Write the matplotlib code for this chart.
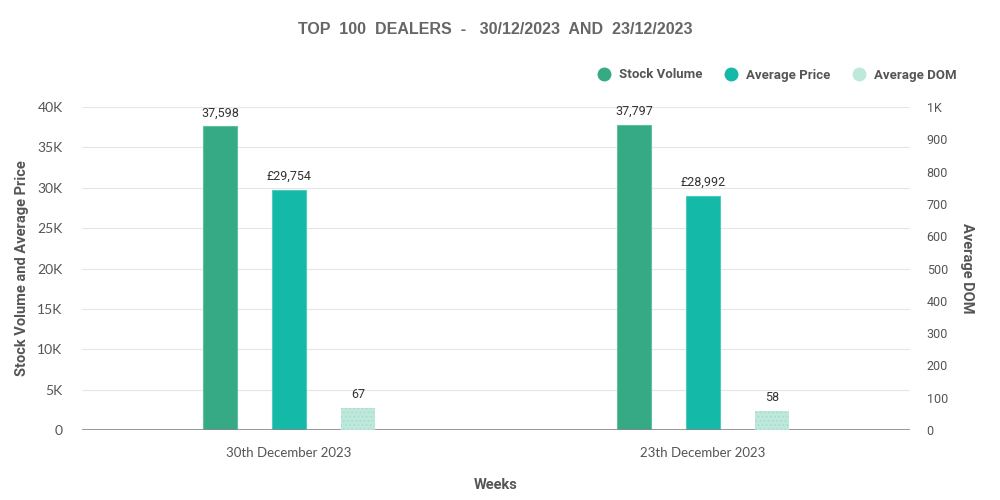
import matplotlib
matplotlib.use("Agg")
import matplotlib.pyplot as plt
from matplotlib.lines import Line2D
import numpy as np

weeks = ["30th December 2023", "23th December 2023"]
stock_volume = [37598, 37797]
average_price = [29754, 28992]
average_dom = [67, 58]
left_ticks = [0, 5000, 10000, 15000, 20000, 25000, 30000, 35000, 40000]
left_tick_labels = ["0", "5K", "10K", "15K", "20K", "25K", "30K", "35K", "40K"]
right_ticks = [0, 100, 200, 300, 400, 500, 600, 700, 800, 900, 1000]
right_tick_labels = ["0", "100", "200", "300", "400", "500", "600", "700", "800", "900", "1K"]

c_stock = "#35aa84"
c_price = "#15b9a7"
c_dom = "#bde8db"
txt = "#555555"

fig = plt.figure(figsize=(10, 5), dpi=100)
ax = fig.add_axes([0.082, 0.14, 0.828, 0.646])
ax2 = ax.twinx()

x = np.arange(len(weeks))
w = 0.082
off = 0.167

b1 = ax.bar(x - off, stock_volume, w, color=c_stock, edgecolor="#5fc09f", linewidth=0.8, zorder=3)
b2 = ax.bar(x, average_price, w, color=c_price, edgecolor="#4fcbbd", linewidth=0.8, zorder=3)
plt.rcParams['hatch.linewidth'] = 0.6
b3 = ax2.bar(x + off, average_dom, w, color=c_dom, edgecolor="#a6dccb", hatch="....", linewidth=0, zorder=3)

for xi, v in zip(x - off, stock_volume):
    ax.annotate(f"{v:,}", (xi, v), xytext=(0, 5), textcoords="offset points",
                ha="center", va="bottom", fontsize=9, color="#333333", family="Roboto")
for xi, v in zip(x, average_price):
    ax.annotate(f"£{v:,}", (xi, v), xytext=(0, 5), textcoords="offset points",
                ha="center", va="bottom", fontsize=9, color="#333333", family="Roboto")
for xi, v in zip(x + off, average_dom):
    ax2.annotate(f"{v:,}", (xi, v), xytext=(0, 5), textcoords="offset points",
                 ha="center", va="bottom", fontsize=9, color="#333333", family="Roboto")

ax.set_xlim(-0.5, 1.5)
ax.set_ylim(0, 40000)
ax2.set_ylim(0, 1000)
ax.set_yticks(left_ticks)
ax.set_yticklabels(left_tick_labels, family="Lato", fontsize=10, color=txt)
ax2.set_yticks(right_ticks)
ax2.set_yticklabels(right_tick_labels, family="Roboto", fontsize=9, color=txt)
ax.set_xticks(x)
ax.set_xticklabels(weeks, family="Lato", fontsize=9.5, color=txt)

ax.grid(axis="y", color="#e6e6e6", linewidth=0.8, zorder=0)
ax.set_axisbelow(True)
for a in (ax, ax2):
    for s in ("top", "right", "left"):
        a.spines[s].set_visible(False)
    a.spines["bottom"].set_visible(False)
    a.tick_params(length=0)
ax.axhline(0, color="#888888", linewidth=1.2, zorder=4)
ax.tick_params(axis="y", pad=14)
ax.tick_params(axis="x", pad=12)
ax2.tick_params(axis="y", pad=12)

ax.set_ylabel("Stock Volume and Average Price", family="Roboto", fontweight="bold",
              fontsize=10.5, color=txt, labelpad=6)
ax2.set_ylabel("Average DOM", family="Roboto", fontweight="bold", fontsize=10.5,
               color=txt, rotation=270, labelpad=19)
ax.set_xlabel("Weeks", family="Roboto", fontweight="bold", fontsize=10.5, color=txt, labelpad=14)

fig.text(0.495, 0.94, "TOP  100  DEALERS  -   30/12/2023  AND  23/12/2023",
         ha="center", va="center", family="Liberation Sans", fontweight="bold",
         fontsize=11.5, color="#666666")

handles = [Line2D([], [], marker="o", linestyle="", markersize=9, color=c)
           for c in (c_stock, c_price, c_dom)]
leg = fig.legend(handles, ["Stock Volume", "Average Price", "Average DOM"],
                 loc="center right", bbox_to_anchor=(0.968, 0.85), ncol=3, frameon=False,
                 handletextpad=0.3, columnspacing=1.4, handlelength=1.6,
                 prop={"family": "Roboto", "weight": "bold", "size": 9.5})
for t in leg.get_texts():
    t.set_color(txt)

fig.savefig("out.png", dpi=100, facecolor="white")
